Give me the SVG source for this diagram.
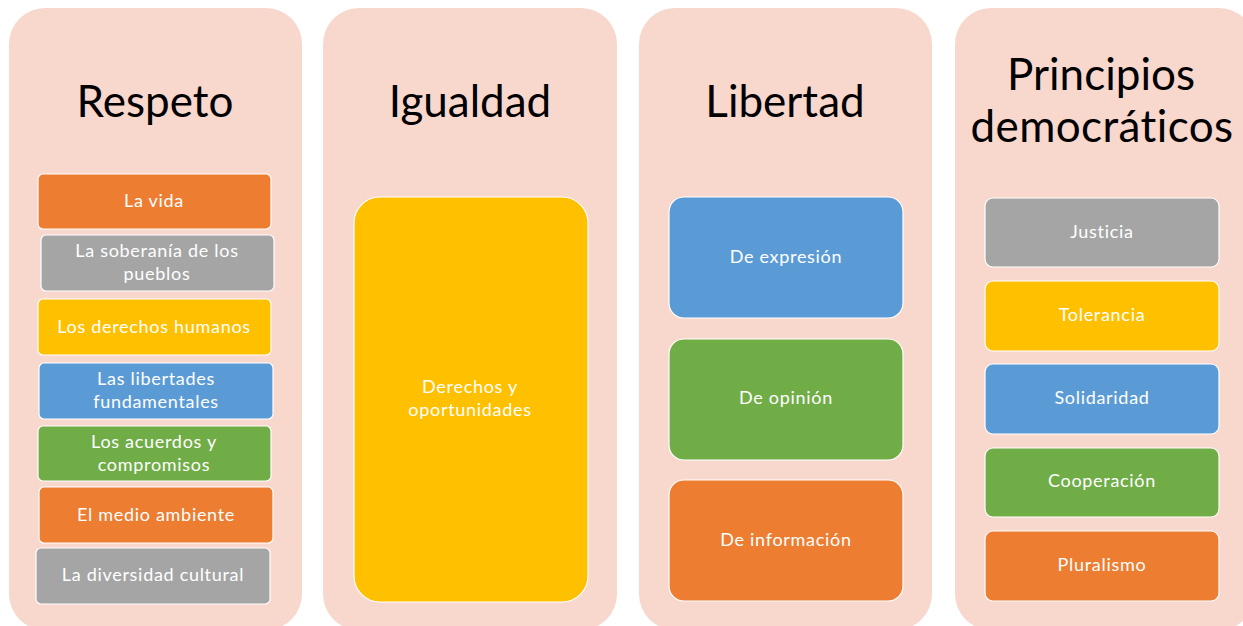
<svg xmlns="http://www.w3.org/2000/svg" width="1243" height="626" viewBox="0 0 1243 626">
<style>
.panel{fill:#F8D7CD}
.title{font-family:Lato,"Open Sans",sans-serif;font-size:44px;fill:#000;text-anchor:middle}
.lbl{font-family:Lato,"Open Sans",sans-serif;font-size:18px;letter-spacing:0.7px;fill:#fff;text-anchor:middle}
.box{stroke:#fff;stroke-width:1.2}
.or{fill:#ED7D31}.gr{fill:#A5A5A5}.ye{fill:#FFC000}.bl{fill:#5B9BD5}.gn{fill:#70AD47}
</style>
<rect width="1243" height="626" fill="#fff"/>
<g id="respeto">
<rect class="panel" x="9" y="8" width="293" height="622" rx="36"/>
<text class="title" x="155" y="117">Respeto</text>
<g id="r1"><rect class="box or" x="38" y="174" width="233" height="55" rx="5"/><text class="lbl" x="154" y="207">La vida</text></g>
<g id="r2"><rect class="box gr" x="41" y="235" width="233" height="56" rx="5"/><text class="lbl" x="157" y="257">La soberanía de los</text><text class="lbl" x="157" y="280">pueblos</text></g>
<g id="r3"><rect class="box ye" x="38" y="299" width="233" height="56" rx="5"/><text class="lbl" x="154" y="333">Los derechos humanos</text></g>
<g id="r4"><rect class="box bl" x="39" y="363" width="234" height="56" rx="5"/><text class="lbl" x="156" y="385">Las libertades</text><text class="lbl" x="156" y="408">fundamentales</text></g>
<g id="r5"><rect class="box gn" x="38" y="426" width="233" height="55" rx="5"/><text class="lbl" x="154" y="448">Los acuerdos y</text><text class="lbl" x="154" y="471">compromisos</text></g>
<g id="r6"><rect class="box or" x="39" y="487" width="234" height="56" rx="5"/><text class="lbl" x="156" y="521">El medio ambiente</text></g>
<g id="r7"><rect class="box gr" x="36" y="548" width="234" height="56" rx="5"/><text class="lbl" x="153" y="581">La diversidad cultural</text></g>
</g>
<g id="igualdad">
<rect class="panel" x="323" y="8" width="294" height="622" rx="36"/>
<text class="title" x="470" y="117">Igualdad</text>
<g id="i1"><rect class="box ye" x="354" y="197" width="234" height="405" rx="26"/><text class="lbl" x="470" y="393">Derechos y</text><text class="lbl" x="470" y="416">oportunidades</text></g>
</g>
<g id="libertad">
<rect class="panel" x="639" y="8" width="293" height="622" rx="36"/>
<text class="title" x="785" y="117">Libertad</text>
<g id="l1"><rect class="box bl" x="669" y="197" width="234" height="121" rx="15"/><text class="lbl" x="786" y="263">De expresión</text></g>
<g id="l2"><rect class="box gn" x="669" y="339" width="234" height="121" rx="15"/><text class="lbl" x="786" y="404">De opinión</text></g>
<g id="l3"><rect class="box or" x="669" y="480" width="234" height="121" rx="15"/><text class="lbl" x="786" y="546">De información</text></g>
</g>
<g id="principios">
<rect class="panel" x="955" y="8" width="300" height="622" rx="36"/>
<text class="title" x="1101" y="90">Principios</text>
<text class="title" x="1102" y="142" letter-spacing="0.4">democráticos</text>
<g id="p1"><rect class="box gr" x="985" y="198" width="234" height="69" rx="8"/><text class="lbl" x="1102" y="238">Justicia</text></g>
<g id="p2"><rect class="box ye" x="985" y="281" width="234" height="70" rx="8"/><text class="lbl" x="1102" y="321">Tolerancia</text></g>
<g id="p3"><rect class="box bl" x="985" y="364" width="234" height="70" rx="8"/><text class="lbl" x="1102" y="404">Solidaridad</text></g>
<g id="p4"><rect class="box gn" x="985" y="448" width="234" height="69" rx="8"/><text class="lbl" x="1102" y="487">Cooperación</text></g>
<g id="p5"><rect class="box or" x="985" y="531" width="234" height="70" rx="8"/><text class="lbl" x="1102" y="571">Pluralismo</text></g>
</g>
</svg>
